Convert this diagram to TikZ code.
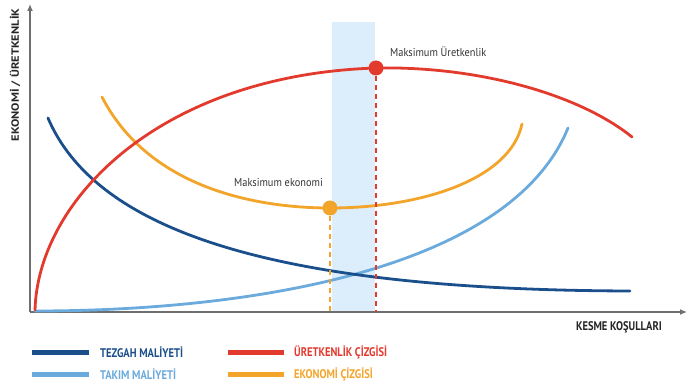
\documentclass[tikz,border=0pt]{standalone}
\usepackage{fontspec}
\setmainfont{PT Sans}
\usetikzlibrary{arrows.meta}
\definecolor{tezgah}{HTML}{1B4F8C}
\definecolor{takim}{HTML}{6AAADC}
\definecolor{uretken}{HTML}{E23B2E}
\definecolor{ekonomi}{HTML}{F2A52A}
\definecolor{band}{HTML}{DCEEFB}
\definecolor{eksen}{HTML}{6E6E6E}
\tikzset{
  curve/.style={line width=2.8pt, line cap=round},
  dot/.style={circle, inner sep=0pt, minimum size=15pt},
  caps/.style={font=\bfseries\fontsize{12.5}{14}\selectfont, xscale=0.84, inner sep=0pt},
  note/.style={font=\fontsize{11.5}{13}\selectfont, xscale=0.9, text=black!80, inner sep=0pt},
  legline/.style={line width=5pt},
  guide/.style={line width=1.8pt, dash pattern=on 5pt off 4pt}
}
\begin{document}
\begin{tikzpicture}[x=1pt, y=-1pt]
  \useasboundingbox (0,0) rectangle (688,387);
  % band
  \fill[band] (332,22) rectangle (375,312);
  % axes
  \coordinate (o) at (30,312);
  \coordinate (ytop) at (30,4);
  \coordinate (xend) at (687,312);
  \draw[eksen, line width=1.3pt, -{Latex[length=7pt,width=6pt]}] (o) -- (ytop);
  \draw[eksen, line width=1.3pt, -{Latex[length=7pt,width=6pt]}] (o) -- (xend);
  \node[caps, rotate=90, text=black!85] (ylab) at (15,75) {EKONOMİ / ÜRETKENLİK};
  \node[caps, anchor=east, text=black!85] (xlab) at (662,327) {KESME KOŞULLARI};
  % curves
  \draw[curve, takim] (35,311) .. controls (250,311) and (510,270) .. (568,128);
  \draw[curve, tezgah] (48,118) .. controls (100,240) and (300,290) .. (630,291);
  \draw[curve, ekonomi] (102,97) .. controls (150,190) and (260,208) .. (330,208)
    .. controls (420,208) and (510,180) .. (522,124);
  \draw[curve, uretken] (35,310) .. controls (38,200) and (160,75) .. (376,68)
    .. controls (480,66) and (580,95) .. (632,137);
  % maxima
  \node[dot, fill=uretken] (maxuret) at (376,68) {};
  \node[dot, fill=ekonomi] (maxeko) at (330,208) {};
  \coordinate (uretbase) at (376,312);
  \coordinate (ekobase) at (330,312);
  \draw[uretken, guide] (maxuret) -- (uretbase);
  \draw[ekonomi, guide] (maxeko) -- (ekobase);
  \node[note, anchor=west] (uretlab) at (390,52) {Maksimum Üretkenlik};
  \node[note, anchor=west] (ekolab) at (234,182) {Maksimum ekonomi};
  % legend
  \coordinate (l1a) at (32,352); \coordinate (l1b) at (89,352);
  \coordinate (l2a) at (32,374); \coordinate (l2b) at (89,374);
  \coordinate (l3a) at (228,352); \coordinate (l3b) at (284,352);
  \coordinate (l4a) at (228,374); \coordinate (l4b) at (284,374);
  \draw[legline, tezgah] (l1a) -- (l1b);
  \draw[legline, takim] (l2a) -- (l2b);
  \draw[legline, uretken] (l3a) -- (l3b);
  \draw[legline, ekonomi] (l4a) -- (l4b);
  \node[caps, anchor=west, text=tezgah] (tezgahlab) at (100,352) {TEZGAH MALİYETİ};
  \node[caps, anchor=west, text=takim] (takimlab) at (100,374) {TAKIM MALİYETİ};
  \node[caps, anchor=west, text=uretken] (uretkenlab) at (294,352) {ÜRETKENLİK ÇİZGİSİ};
  \node[caps, anchor=west, text=ekonomi] (ekonomilab) at (294,374) {EKONOMİ ÇİZGİSİ};
\end{tikzpicture}
\end{document}
